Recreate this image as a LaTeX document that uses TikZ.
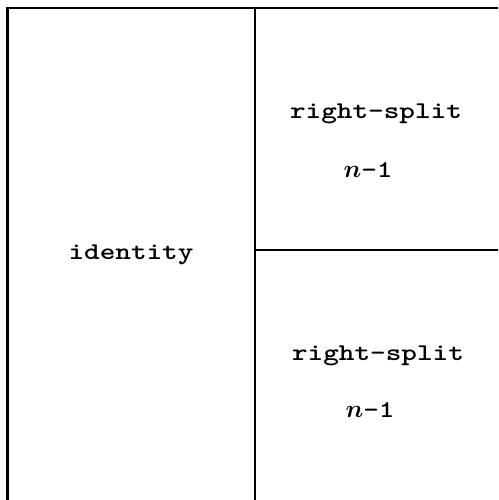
\documentclass[tikz,border=0pt]{standalone}
\usepackage{graphicx}
\usepackage{bm}
\begin{document}
\begin{tikzpicture}[x=1pt,y=-1pt,
  lbl/.style={anchor=base,inner sep=0pt,font=\fontsize{24}{28}\selectfont\ttfamily\bfseries},
  divider/.style={line width=2.3pt,black}]
\useasboundingbox (0,0) rectangle (498,500);
\clip (0,0) rectangle (498,500);
% frame corners
\coordinate (tl) at (7.5,8);
\coordinate (tr) at (505,8);
\coordinate (bl) at (7.5,510);
\coordinate (mt) at (255,8);
\coordinate (mb) at (255,510);
\coordinate (ml) at (255,250);
\coordinate (mr) at (505,250);
\draw[divider] (bl) -- (tl) -- (tr);
\draw[divider] (mt) -- (mb);
\draw[divider] (ml) -- (mr);
% labels
\node[lbl] (id) at (131,259) {\scalebox{1.24}[1]{identity}};
\node[lbl] (rs1) at (376,118) {\scalebox{1.24}[1]{right-split}};
\node[lbl] (n1) at (368,177) {$\bm{n}$\scalebox{1.24}[1]{-1}};
\node[lbl] (rs2) at (378,360) {\scalebox{1.24}[1]{right-split}};
\node[lbl] (n2) at (370,417) {$\bm{n}$\scalebox{1.24}[1]{-1}};
\end{tikzpicture}
\end{document}
